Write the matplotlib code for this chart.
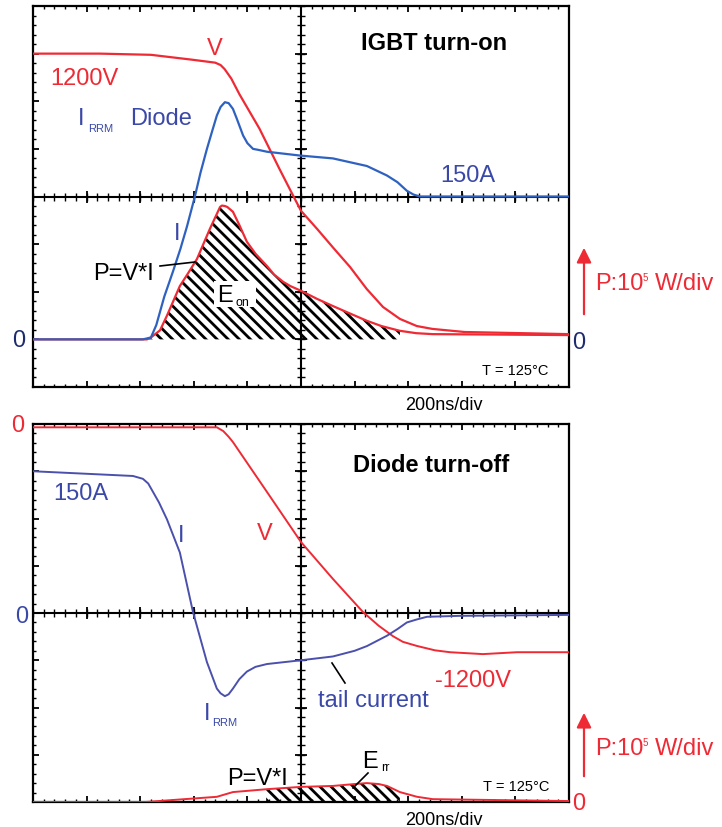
import numpy as np
import matplotlib
matplotlib.use("Agg")
import matplotlib.pyplot as plt
from matplotlib.patches import FancyArrowPatch, Rectangle

plt.rcParams['font.family'] = ['Liberation Sans', 'DejaVu Sans']
plt.rcParams['hatch.linewidth'] = 2.0

W, H = 722, 828
RED = '#ee2a35'
BLUE_TXT = '#3a48a8'
BLUE_ON = '#2f62c0'
BLUE_OFF = '#4a50ac'
NAVY = '#1e2c6e'

# IGBT turn-on (time in ns, 200 ns/div)
on_v_t = [0, 250, 440, 590, 680, 700, 715, 740, 770, 845, 920, 970, 1000, 1060, 1120,
          1183, 1245, 1306, 1369, 1432, 1490, 1610, 2000]
on_v = [1200, 1200, 1195, 1175, 1162, 1152, 1135, 1095, 1030, 885, 715, 605, 540, 464, 385,
        304, 212, 136, 86, 56, 44, 31, 22]

on_i_t = [0, 410, 440, 460, 490, 522, 550, 575, 604, 625, 649, 670, 686, 700, 716, 730, 746,
          760, 784, 800, 821, 840, 873, 996, 1119, 1246, 1321, 1360, 1395, 1420, 1444, 2000]
on_i = [0, 0, 2, 15, 45, 71, 95, 119, 150, 175, 200, 220, 235, 244, 249, 248, 242,
        232, 214, 206, 200, 199, 197, 193, 190, 182, 172, 165, 156, 152, 150, 150]

on_p_t = [0, 425, 440, 474, 500, 548, 580, 612, 660, 698, 705, 716, 725, 746, 770, 798, 830,
          873, 900, 933, 960, 1000, 1060, 1119, 1180, 1246, 1300, 1369, 1430, 1492, 2000]
on_p = [0, 0, 4, 19, 50, 112, 140, 169, 232, 278, 281, 280, 278, 268, 240, 205, 180,
        154, 136, 121, 112, 102, 85, 70, 55, 39, 28, 18, 13, 11, 9]

# Diode turn-off
off_v_t = [0, 686, 710, 730, 746, 873, 1000, 1119, 1231, 1290, 1343, 1380, 1433, 1500,
           1556, 1679, 1806, 2000]
off_v = [0, 0, -20, -50, -78, -342, -607, -802, -977, -1050, -1105, -1135, -1157, -1180,
         -1190, -1200, -1190, -1190]

off_i_t = [0, 373, 410, 430, 448, 470, 500, 548, 597, 649, 686, 700, 716, 730, 746, 770,
           798, 830, 873, 1000, 1119, 1200, 1246, 1321, 1360, 1395, 1430, 1470, 1593, 2000]
off_i = [150, 145, 142, 137, 128, 117, 99, 64, 1, -52, -80, -85, -88, -86, -80, -70,
         -62, -57, -54, -50, -46, -40, -35, -24, -17, -10, -7, -4, -3, -2]

off_p_t = [0, 420, 686, 746, 870, 1000, 1119, 1200, 1246, 1290, 1321, 1369, 1433, 1492, 2000]
off_p = [0, 0, 11, 21, 27, 32, 34, 38, 40, 38, 34, 21, 11, 6, 2]


def px(x, y):
    return x / W, 1 - y / H


def scope_axes(fig, top, bottom):
    ax = fig.add_axes([33 / W, 1 - bottom / H, (569 - 33) / W, (bottom - top) / H])
    ax.set_xlim(0, 2000)
    ax.set_ylim(0, 8)
    ax.set_xticks(np.arange(0, 2001, 200))
    ax.set_xticks(np.arange(0, 2001, 40), minor=True)
    ax.set_yticks(np.arange(0, 9))
    ax.set_yticks(np.arange(0, 8.01, 0.2), minor=True)
    ax.tick_params(which='both', direction='in', top=True, right=True,
                   labelbottom=False, labelleft=False, color='k')
    ax.tick_params(which='major', length=4.5, width=1.3)
    ax.tick_params(which='minor', length=2.5, width=1.0)
    for s in ax.spines.values():
        s.set_linewidth(1.6)
    # centre crosshair with its own graduation
    ax.axhline(4, color='k', lw=1.5)
    ax.axvline(1000, color='k', lw=1.5)
    xm = np.arange(0, 2001, 40)
    ym = np.arange(0, 8.01, 0.2)
    ax.plot(xm, np.full(len(xm), 4), ls='none', marker='|', ms=6, mew=1.0, color='k')
    ax.plot(np.arange(0, 2001, 200), np.full(11, 4), ls='none', marker='|', ms=9, mew=1.3, color='k')
    ax.plot(np.full(len(ym), 1000), ym, ls='none', marker='_', ms=6, mew=1.0, color='k')
    ax.plot(np.full(9, 1000), np.arange(0, 9), ls='none', marker='_', ms=9, mew=1.3, color='k')
    return ax


def channel(ax, lo, hi):
    ch = ax.twinx()
    ch.set_ylim(lo, hi)
    ch.axis('off')
    return ch


fig = plt.figure(figsize=(W / 100, H / 100), dpi=100)
HATCH = '\\\\\\'

# ---- IGBT turn-on ----
ax1 = scope_axes(fig, 7, 388)
v1 = channel(ax1, -200, 1400)
p1 = channel(ax1, -100, 700)
i1 = channel(ax1, -50, 350)
v1.plot(on_v_t, on_v, color=RED, lw=1.6)
pt = np.array(on_p_t)
pv = np.array(on_p)
p1.fill_between(pt, 0, pv, where=pt <= 1370, hatch=HATCH, facecolor='none',
                edgecolor='k', linewidth=0)
p1.plot(on_p_t, on_p, color=RED, lw=1.6)
i1.plot(on_i_t, on_i, color=BLUE_ON, lw=1.6)

# ---- Diode turn-off ----
ax2 = scope_axes(fig, 425, 803)
v2 = channel(ax2, -7.93 * 250, 0.07 * 250)
p2 = channel(ax2, 0, 800)
i2 = channel(ax2, -200, 200)
v2.plot(off_v_t, off_v, color=RED, lw=1.4)
qt = np.array(off_p_t)
qv = np.array(off_p)
p2.fill_between(qt, 0, qv, where=(qt >= 860) & (qt <= 1370), hatch=HATCH,
                facecolor='none', edgecolor='k', linewidth=0)
p2.plot(off_p_t, off_p, color=RED, lw=1.4)
i2.plot(off_i_t, off_i, color=BLUE_OFF, lw=1.4)


def label(x, y, s, color='k', size=17, **kw):
    kw.setdefault('ha', 'left')
    fig.text(*px(x, y), s, color=color, fontsize=size, va='baseline', **kw)


def leader(x0, y0, x1, y1):
    fig.add_artist(plt.Line2D([x0 / W, x1 / W], [1 - y0 / H, 1 - y1 / H],
                              color='k', lw=1.2))


def power_scale(y_tail, y_head, y_text):
    fig.add_artist(FancyArrowPatch(
        px(584, y_tail), px(584, y_head), transform=fig.transFigure,
        arrowstyle='-|>', mutation_scale=22, color=RED, lw=1.6))
    label(595, y_text, 'P:10', RED)
    label(643, y_text - 9, '5', RED, size=7)
    label(655, y_text, 'W/div', RED)


# top panel text
label(215, 55, 'V', RED, ha='center')
label(84, 85, '1200V', RED, ha='center')
label(78, 125, 'I', BLUE_TXT)
label(88, 132, 'RRM', BLUE_TXT, size=8)
label(130, 125, 'Diode', BLUE_TXT)
label(440, 182, '150A', BLUE_TXT)
label(434, 50, 'IGBT turn-on', ha='center', fontweight='bold')
label(174, 240, 'I', BLUE_TXT)
label(93, 280, 'P=V*I')
leader(160, 267, 195, 263)
fig.add_artist(Rectangle(px(214, 308), 42 / W, 26 / H, transform=fig.transFigure,
                         facecolor='white', edgecolor='none'))
label(217, 302, 'E')
label(236, 306, 'on', size=9)
label(19, 347, '0', NAVY, ha='center')
label(579, 349, '0', NAVY, ha='center')
power_scale(318, 246, 290)
label(482, 375, 'T = 125°C', size=10.5)
label(444, 410, '200ns/div', size=13, ha='center')

# bottom panel text
label(18, 432, '0', RED, ha='center')
label(22, 623, '0', BLUE_TXT, ha='center')
label(53, 500, '150A', BLUE_TXT)
label(178, 542, 'I', BLUE_TXT)
label(265, 540, 'V', RED, ha='center')
label(431, 472, 'Diode turn-off', ha='center', fontweight='bold')
label(204, 720, 'I', BLUE_TXT)
label(212, 726, 'RRM', BLUE_TXT, size=8)
label(318, 707, 'tail current', BLUE_TXT)
leader(332, 664, 345, 684)
label(435, 687, '-1200V', RED)
label(227, 785, 'P=V*I')
label(362, 768, 'E')
label(381, 771, 'rr', size=9)
leader(368, 774, 353, 789)
power_scale(780, 711, 755)
label(579, 810, '0', RED, ha='center')
label(483, 791, 'T = 125°C', size=10.5)
label(444, 825, '200ns/div', size=13, ha='center')

fig.savefig('out.png', dpi=100)
